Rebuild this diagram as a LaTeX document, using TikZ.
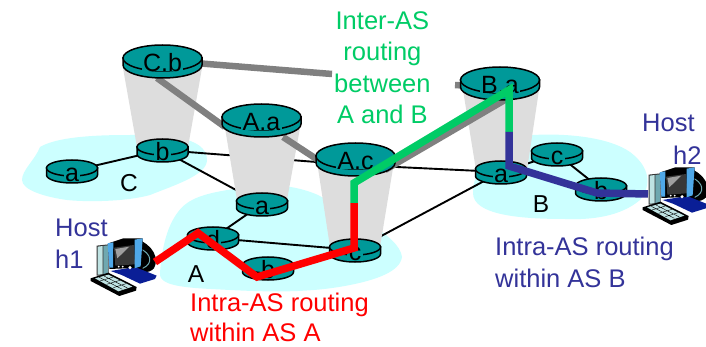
\documentclass[tikz,border=0pt]{standalone}
\usepackage{fontspec}
\setmainfont{Liberation Sans}
\definecolor{rteal}{HTML}{009999}
\definecolor{cloudc}{HTML}{CCFFFF}
\definecolor{conec}{HTML}{DDDDDD}
\definecolor{grayl}{HTML}{808080}
\definecolor{greenr}{HTML}{00CC66}
\definecolor{bluer}{HTML}{333399}
\definecolor{pcblue}{HTML}{0A1E96}
\definecolor{pcbez}{HTML}{4FA8E8}
\definecolor{pcpale}{HTML}{BFE3E3}
\definecolor{pcmid}{HTML}{6FA8B0}
\tikzset{
  cloudshape/.style={fill=cloudc,draw=none},
  conefill/.style={fill=conec,draw=none},
  wire/.style={draw=black,line width=1.9pt},
  graylink/.style={draw=grayl,line width=6.5pt},
  routeline/.style={line width=7.5pt,line join=miter},
  rbody/.style={fill=rteal,draw=black,line width=1.5pt},
  rlabel/.style={fill=rteal,inner xsep=1.5pt,inner ysep=0pt,text height=9.5pt,text depth=0pt,anchor=base,font=\fontsize{25}{28}\selectfont},
  caption/.style={font=\fontsize{25.5}{31.5}\selectfont,inner sep=0pt,align=left,anchor=north west},
  aslabel/.style={font=\fontsize{24.5}{28}\selectfont,inner sep=0pt,anchor=base}
}
% name, x, y, rx, ry, label
\newcommand{\myrouter}[6]{%
  \path[rbody] ({#2-#4},#3) -- ++(0,7) arc[start angle=180,end angle=360,x radius=#4pt,y radius=#5pt] -- ++(0,-7) -- cycle;
  \path[rbody] (#2,#3) ellipse[x radius=#4pt,y radius=#5pt];
  \node[rlabel] (#1) at (#2,{#3+13.5}) {#6};
}
\newcommand{\mypc}[2]{%
  \begin{scope}[shift={(#1,#2)},x=.3333pt,y=-.3333pt]
    % tower
    \fill[black!80] (20,62) -- (56,58) -- (56,150) -- (20,152) -- cycle;
    \fill[pcpale] (23,65) -- (38,63) -- (38,148) -- (23,149) -- cycle;
    \fill[pcmid] (40,63) -- (54,61) -- (54,146) -- (40,148) -- cycle;
    % rear of monitor
    \fill[black] (140,42) .. controls (190,60) and (208,100) .. (192,130) .. controls (175,148) and (150,142) .. (130,137) -- cycle;
    \draw[pcmid,line width=1pt] (152,72) .. controls (182,85) and (192,115) .. (158,130);
    % base
    \fill[pcblue] (62,138) -- (135,126) -- (200,152) -- (195,162) -- (150,176) -- (95,150) -- cycle;
    % monitor
    \fill[black] (55,55) -- (100,40) -- (158,40) -- (158,128) -- (58,132) -- cycle;
    \fill[black!78] (72,68) -- (132,60) -- (135,118) -- (76,122) -- cycle;
    \fill[gray!75] (76,72) -- (118,65) -- (82,100) -- cycle;
    \fill[pcbez] (53,55) -- (70,52) -- (69,128) -- (58,128) -- cycle;
    \fill[pcbez] (134,44) -- (158,40) -- (152,124) -- (134,130) -- cycle;
    \fill[white] (86,125) circle[radius=3] (98,125) circle[radius=3] (120,128) circle[radius=5];
    % keyboard
    \fill[black] (2,160) -- (55,143) -- (140,186) -- (138,197) -- (88,213) -- (2,168) -- cycle;
    \fill[pcpale] (15,160) -- (55,149) -- (127,185) -- (85,199) -- cycle;
    \draw[black,line width=.4pt] (28,157) -- (97,193) (42,153) -- (112,189) (30,168) -- (70,156) (50,178) -- (90,166) (70,188) -- (108,176);
  \end{scope}
}
\begin{document}
\begin{tikzpicture}[x=1pt,y=-1pt]
\useasboundingbox (0,0) rectangle (706,347);
\clip (0,0) rectangle (706,347);
\fill[white] (0,0) rectangle (706,347);
% clouds
\path[cloudshape] (22,180) .. controls (22,170) and (35,160) .. (40,147)
  .. controls (60,135) and (110,135) .. (133,135)
  .. controls (160,135) and (207,135) .. (207,160)
  .. controls (207,175) and (175,185) .. (150,195)
  .. controls (125,202) and (85,202) .. (67,200)
  .. controls (45,197) and (22,190) .. (22,180) -- cycle;
\path[cloudshape] (160,273) .. controls (162,245) and (168,225) .. (178,212)
  .. controls (190,195) and (215,192) .. (240,188)
  .. controls (270,183) and (295,185) .. (318,195)
  .. controls (345,210) and (400,235) .. (402,257)
  .. controls (400,272) and (375,280) .. (350,285)
  .. controls (310,293) and (270,292) .. (230,290)
  .. controls (195,288) and (158,288) .. (160,273) -- cycle;
\path[cloudshape] (473,193) .. controls (473,165) and (500,135) .. (533,135)
  .. controls (570,133) and (610,138) .. (630,152)
  .. controls (650,167) and (652,185) .. (640,200)
  .. controls (620,217) and (590,220) .. (565,219)
  .. controls (520,219) and (473,215) .. (473,193) -- cycle;
% wire ends at router positions
\coordinate (wCa) at (72,171); \coordinate (wCb) at (162,150);
\coordinate (wAa) at (262,204); \coordinate (wAd) at (213,238);
\coordinate (wAb) at (268,268); \coordinate (wAc) at (355,250);
\coordinate (wBa) at (501,172); \coordinate (wBc) at (557,154);
\coordinate (wBb) at (601,189); \coordinate (wAcTop) at (355,165);
% wires
\draw[wire] (wCa) -- (wCb);
\draw[wire] (wCb) -- (wAa);
\draw[wire] (wCb) -- (wAcTop);
\draw[wire] (wAa) -- (wAd);
\draw[wire] (wAd) -- (wAc);
\draw[wire] (wAc) -- (wBa);
\draw[wire] (wAcTop) -- (wBa);
\draw[wire] (wBa) -- (wBc);
\draw[wire] (wBc) -- (wBb);
% cones
\path[conefill] (123,68) -- (137,147) -- (188,147) -- (202,68) -- cycle;
\path[conefill] (225,128) -- (237,200) -- (287,200) -- (300,128) -- cycle;
\path[conefill] (318,168) -- (330,247) -- (380,247) -- (393,168) -- cycle;
\path[conefill] (463,90) -- (476,170) -- (527,170) -- (539,90) -- cycle;
% gray links
\coordinate (gCbL) at (157,78); \coordinate (gAaL) at (225,127);
\coordinate (gAaR) at (283,137); \coordinate (gAcL) at (318,160);
\coordinate (gCbR) at (195,63); \coordinate (gGap1) at (332,74);
\coordinate (gGap2) at (455,85); \coordinate (gBaL) at (470,86);
\coordinate (gAcR) at (385,170); \coordinate (gBaB) at (510,97);
\draw[graylink] (gCbL) -- (gAaL);
\draw[graylink] (gAaR) -- (gAcL);
\draw[graylink] (gCbR) -- (gGap1);
\draw[graylink] (gGap2) -- (gBaL);
\draw[graylink] (gAcR) -- (gBaB);
% routers
\myrouter{Cb}{162.5}{58}{39.5}{13}{C.b}
\myrouter{Aa}{261.5}{117}{39.5}{13}{A.a}
\myrouter{Ac}{355.5}{156}{39.5}{13}{A.c}
\myrouter{Ba}{500}{80}{39.5}{13}{B.a}
\myrouter{ca}{72}{168}{25.5}{8}{a}
\myrouter{cb}{162.5}{147}{25.5}{8}{b}
\myrouter{aa}{262}{201}{25.5}{8}{a}
\myrouter{ad}{213}{235}{25.5}{8}{d}
\myrouter{ab}{268}{265}{25.5}{8}{b}
\myrouter{ac}{355}{247}{25.5}{8}{c}
\myrouter{ba}{501}{169}{25.5}{8}{a}
\myrouter{bc}{557}{151}{25.5}{8}{c}
\myrouter{bb}{601}{186}{25.5}{8}{b}
% hosts
\mypc{90}{225}
\mypc{642}{154}
\coordinate (h1) at (155,262); \coordinate (h2) at (648,194);
% routes
\coordinate (rd) at (198,233); \coordinate (rb) at (257,277);
\coordinate (rc) at (354,248); \coordinate (rm) at (354,203);
\coordinate (gm) at (354,183); \coordinate (gt) at (509,90);
\coordinate (bm) at (509,132); \coordinate (bl) at (509,166);
\coordinate (bbb) at (597,193);
\draw[routeline,draw=red] (h1) -- (rd) -- (rb) -- (rc) -- (rm);
\draw[routeline,draw=greenr] (rm) -- (gm) -- (gt) -- (bm);
\draw[routeline,draw=bluer] (bm) -- (bl) -- (bbb) -- (h2);
% labels
\node[aslabel] (lC) at (129,192) {C};
\node[aslabel] (lA) at (196,282) {A};
\node[aslabel] (lB) at (541,213) {B};
\node[caption,align=center,text=greenr] (tInter) at (334,11) {Inter-AS\\routing\\between\\A and B};
\node[caption,text=bluer] (th1) at (55,219) {Host\\h1};
\node[caption,text=bluer] (th2) at (642,114) {Host\\[1pt]\hspace*{31pt}h2};
\node[caption,text=red] (tA) at (190,293) {Intra-AS routing\\[-1.5pt]within AS A};
\node[caption,text=bluer] (tB) at (495,237) {Intra-AS routing\\within AS B};
\end{tikzpicture}
\end{document}
